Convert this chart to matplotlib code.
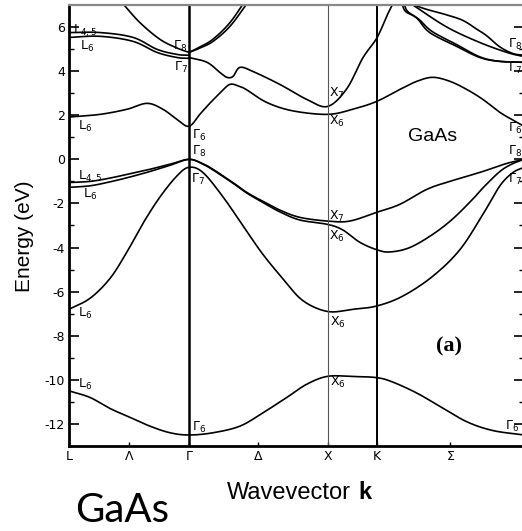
import numpy as np
import matplotlib
matplotlib.use("Agg")
import matplotlib.pyplot as plt

plt.rcParams['axes.unicode_minus'] = False

# symmetry points along the path L - Gamma - X - K - Gamma (units of 2pi/a)
sym_k = [0.0, 0.866, 1.866, 2.221, 3.283]
sym_names = ['L', r'$\Lambda$', r'$\Gamma$', r'$\Delta$', 'X', 'K', r'$\Sigma$', r'$\Gamma$']
sym_ticks = [0.0, 0.433, 0.866, 1.366, 1.866, 2.221, 2.75, 3.283]

# valence bands
s_k = [0, 0.152, 0.296, 0.440, 0.584, 0.729, 0.866, 1.039, 1.233, 1.398, 1.571, 1.715,
       1.866, 2.047, 2.221, 2.336, 2.510, 2.675, 2.870, 3.059, 3.283]
s_e = [-10.5, -10.8, -11.3, -11.7, -12.1, -12.4, -12.5, -12.4, -12.1, -11.5, -10.8, -10.2,
       -9.84, -9.85, -9.9, -10.1, -10.6, -11.2, -11.9, -12.3, -12.5]

p1_k = [0, 0.152, 0.296, 0.418, 0.534, 0.657, 0.779, 0.866, 0.967, 1.111, 1.254, 1.398,
        1.542, 1.686, 1.866, 2.047, 2.221, 2.409, 2.625, 2.820, 2.986, 3.109, 3.203, 3.283]
p1_e = [-6.8, -6.3, -5.4, -4.2, -2.9, -1.7, -0.75, -0.36, -0.6, -1.7, -3.0, -4.3,
        -5.4, -6.4, -6.9, -6.8, -6.65, -6.2, -5.3, -4.1, -2.5, -1.2, -0.6, -0.36]

hh_k = [0, 0.152, 0.296, 0.440, 0.584, 0.729, 0.866, 0.967, 1.039, 1.111, 1.183, 1.283,
        1.398, 1.521, 1.665, 1.866, 2.025, 2.221, 2.387, 2.582, 2.748, 2.986, 3.150, 3.283]
hh_e = [-1.05, -1.0, -0.85, -0.65, -0.45, -0.22, 0, -0.2, -0.45, -0.75, -1.05, -1.5,
        -1.9, -2.3, -2.63, -2.8, -2.8, -2.4, -2.04, -1.36, -1.0, -0.55, -0.2, 0]

lh_k = [0, 0.152, 0.296, 0.440, 0.584, 0.729, 0.866, 0.967, 1.039, 1.111, 1.183, 1.283,
        1.398, 1.521, 1.665, 1.866, 1.975, 2.098, 2.221, 2.315, 2.459, 2.625, 2.769,
        2.914, 2.986, 3.109, 3.200, 3.283]
lh_e = [-1.27, -1.2, -1.02, -0.8, -0.55, -0.27, 0, -0.22, -0.48, -0.78, -1.08, -1.53,
        -1.95, -2.38, -2.75, -2.95, -3.2, -3.76, -4.1, -4.2, -4.0, -3.4, -2.7,
        -1.8, -1.3, -0.55, -0.2, 0]

# conduction bands
c1_k = [0, 0.224, 0.418, 0.563, 0.678, 0.779, 0.866, 0.945, 1.017, 1.089, 1.161, 1.233,
        1.283, 1.427, 1.614, 1.866, 2.047, 2.221, 2.387, 2.510, 2.625, 2.748, 2.870,
        2.986, 3.109, 3.232, 3.283]
c1_e = [1.92, 2.04, 2.27, 2.54, 2.27, 1.81, 1.5, 2.05, 2.55, 3.0, 3.4, 3.3,
        3.15, 2.58, 2.2, 2.04, 2.27, 2.63, 3.17, 3.54, 3.72, 3.54, 3.17,
        2.72, 2.13, 1.68, 1.5]

c2_k = [0.866, 0.996, 1.089, 1.139, 1.183, 1.233, 1.326, 1.521, 1.715, 1.866, 2.004,
        2.120, 2.221, 2.293, 2.336]
c2_e = [4.62, 4.4, 3.94, 3.72, 3.76, 4.17, 3.99, 3.4, 2.72, 2.4, 3.2,
        4.6, 5.5, 6.5, 7.05]

lu_k = [0, 0.224, 0.462, 0.635, 0.779, 0.866]
lu_e = [5.75, 5.75, 5.53, 4.99, 4.76, 4.72]
ll_e = [5.53, 5.58, 5.35, 4.85, 4.62, 4.58]

ltop_k = [0.390, 0.512, 0.657, 0.779, 0.866]
ltop_e = [7.05, 6.2, 5.44, 5.05, 4.85]

gx_k = [0.866, 0.945, 1.039, 1.161, 1.283]
gx1_e = [4.85, 5.05, 5.35, 6.03, 7.05]
gx2_e = [4.85, 5.1, 5.45, 6.2, 7.3]

kb1_k = [2.405, 2.43, 2.51, 2.603, 2.798, 2.964, 3.10, 3.283]
kb1_e = [7.0, 6.7, 6.4, 5.75, 5.12, 4.62, 4.45, 4.4]
kb2_k = [2.42, 2.445, 2.525, 2.62, 2.798, 2.964, 3.10, 3.283]
kb2_e = [7.0, 6.7, 6.35, 5.8, 5.2, 4.65, 4.45, 4.4]

kc_k = [2.481, 2.726, 2.964, 3.160, 3.254, 3.283]
kc_e = [7.0, 6.0, 5.3, 4.85, 4.7, 4.68]

kd_k = [2.488, 2.582, 2.726, 2.842, 2.943, 3.015, 3.109, 3.203, 3.283]
kd_e = [7.0, 6.8, 6.55, 6.3, 5.9, 5.6, 5.1, 4.8, 4.72]

bands = [(s_k, s_e), (p1_k, p1_e), (hh_k, hh_e), (lh_k, lh_e), (c1_k, c1_e),
         (c2_k, c2_e), (lu_k, lu_e), (lu_k, ll_e), (ltop_k, ltop_e),
         (gx_k, gx1_e), (gx_k, gx2_e), (kb1_k, kb1_e), (kb2_k, kb2_e),
         (kc_k, kc_e), (kd_k, kd_e)]

# level labels: (k, E, text, ha)
level_labels = [
    (0.03, 5.85, r'$\mathrm{L}_{4,5}$', 'left'), (0.08, 5.1, r'$\mathrm{L}_6$', 'left'),
    (0.065, 1.5, r'$\mathrm{L}_6$', 'left'), (0.065, -0.8, r'$\mathrm{L}_{4,5}$', 'left'),
    (0.1, -1.6, r'$\mathrm{L}_6$', 'left'), (0.065, -7.0, r'$\mathrm{L}_6$', 'left'),
    (0.065, -10.2, r'$\mathrm{L}_6$', 'left'),
    (0.855, 5.1, r'$\Gamma_8$', 'right'), (0.855, 4.15, r'$\Gamma_7$', 'right'),
    (0.885, 1.1, r'$\Gamma_6$', 'left'), (0.885, 0.35, r'$\Gamma_8$', 'left'),
    (0.88, -0.9, r'$\Gamma_7$', 'left'), (0.885, -12.15, r'$\Gamma_6$', 'left'),
    (1.875, 3.0, r'$\mathrm{X}_7$', 'left'), (1.875, 1.7, r'$\mathrm{X}_6$', 'left'),
    (1.875, -2.6, r'$\mathrm{X}_7$', 'left'), (1.875, -3.5, r'$\mathrm{X}_6$', 'left'),
    (1.885, -7.4, r'$\mathrm{X}_6$', 'left'), (1.885, -10.1, r'$\mathrm{X}_6$', 'left'),
    (3.17, 5.2, r'$\Gamma_8$', 'left'), (3.17, 4.1, r'$\Gamma_7$', 'left'),
    (3.165, 1.4, r'$\Gamma_6$', 'left'), (3.165, 0.35, r'$\Gamma_8$', 'left'),
    (3.17, -0.9, r'$\Gamma_7$', 'left'), (3.145, -12.1, r'$\Gamma_6$', 'left'),
]


def smooth(k, e, n=14):
    # Catmull-Rom curve through the given points
    pts = np.column_stack([k, e]).astype(float)
    p = np.vstack([2 * pts[0] - pts[1], pts, 2 * pts[-1] - pts[-2]])
    t = np.linspace(0, 1, n, endpoint=False)[:, None]
    out = []
    for i in range(1, len(p) - 2):
        p0, p1, p2, p3 = p[i - 1], p[i], p[i + 1], p[i + 2]
        seg = 0.5 * (2 * p1 + (p2 - p0) * t + (2 * p0 - 5 * p1 + 4 * p2 - p3) * t ** 2
                     + (3 * p1 - p0 - 3 * p2 + p3) * t ** 3)
        out.append(seg)
    out.append(pts[-1:])
    c = np.vstack(out)
    return c[:, 0], c[:, 1]


fig = plt.figure(figsize=(5.22, 5.31), dpi=100)
ax = fig.add_axes([69 / 522, 85 / 531, 455 / 522, 441 / 531])

for k, e in bands:
    xs, ys = smooth(k, e)
    ax.plot(xs, ys, color='black', lw=1.2, solid_capstyle='round')

ax.axvline(sym_k[1], color='black', lw=1.8)
ax.axvline(sym_k[2], color='#555555', lw=0.8)
ax.axvline(sym_k[3], color='black', lw=1.4)

for k, e, txt, ha in level_labels:
    ax.text(k, e, txt, ha=ha, va='center', fontsize=9)

ax.text(2.445, 0.82, 'GaAs', ha='left', va='baseline', fontsize=14,
        family='Liberation Sans')
ax.text(2.74, -8.48, '(a)', ha='center', va='center', fontsize=16,
        family='Liberation Serif', fontweight='bold')

ax.set_xlim(sym_k[0], sym_k[-1])
ax.set_ylim(-13, 7)
ax.set_xticks(sym_ticks)
ax.set_xticklabels(sym_names, fontsize=9)
ax.set_yticks(np.arange(-12, 7, 2))
ax.set_yticklabels([str(v) for v in range(-12, 7, 2)], fontsize=9)
ax.set_yticks(np.arange(-13, 7, 2), minor=True)
ax.tick_params(axis='y', which='major', direction='in', length=7, width=1.2,
               right=True, pad=3)
ax.tick_params(axis='y', which='minor', direction='in', length=3.5, width=1.0,
               right=True)
ax.tick_params(axis='x', which='major', direction='in', length=3, width=1.0, pad=3)

for side in ['left', 'bottom', 'right']:
    ax.spines[side].set_linewidth(2.0)
ax.spines['top'].set_color('#888888')
ax.spines['top'].set_linewidth(1.6)

fig.text(25 / 522, 1 - 236 / 531, 'Energy (eV)', rotation=90, ha='center',
         va='center', fontsize=15, family='Liberation Sans')
t = fig.text(227 / 522, 32 / 531, 'Wavevector', ha='left', va='baseline',
             fontsize=17, family='Liberation Sans')
ax.annotate('k', xy=(1, 0), xycoords=t, xytext=(5, 0), textcoords='offset points',
            ha='left', va='bottom', fontsize=17, family='Liberation Sans',
            fontweight='bold', annotation_clip=False)
fig.text(75 / 522, 9 / 531, 'GaAs', ha='left', va='baseline', fontsize=29,
         family='Lato')

fig.savefig('out.png', dpi=100)
